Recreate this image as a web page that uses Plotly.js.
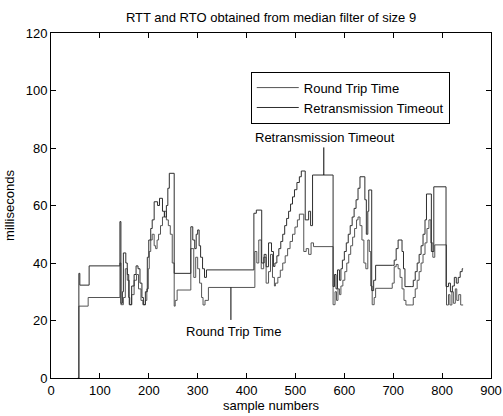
<!DOCTYPE html>
<html>
<head>
<meta charset="utf-8">
<script src="https://cdn.plot.ly/plotly-3.0.1.min.js"></script>
<style>html,body{margin:0;padding:0;background:#fff;}#chart{width:503px;height:416px;}</style>
</head>
<body>
<div id="chart"></div>
<script>
// Round Trip Time (step breakpoints: sample number -> milliseconds)
const rttSamples = [55,57,76,141,143,148,152,156,160,165,170,175,179,184,188,193,196,199,201,204,207,211,214,217,220,224,228,232,236,240,244,248,252,254,258,286,292,296,300,304,308,311,315,322,417,421,425,430,435,440,445,449,453,457,459,464,469,474,479,484,489,494,499,504,508,517,522,527,532,537,577,581,584,587,590,593,597,601,605,609,613,617,621,625,628,632,636,640,644,648,651,654,657,661,664,698,702,706,710,714,718,722,726,738,741,745,749,753,757,761,765,769,773,777,781,785,809,813,816,820,823,827,830,834,838,843];
const rttValues  = [0,25,28,40,25.5,28,38,34,25.5,29,34,36,31,27,25.5,27,31,38,44,48,50,46,45,48,50,53,56,58,55,53,50,40,25,27,30.6,45,35,42,38,33,28,25.4,27,31.5,44,40,48,38,42,33,37,43,35,32,33,35,37.5,40,42.5,45,47.5,50,52.5,55,57,44,45,43,47,45.7,25.5,30,27,31,29,32,34,37,40,43,46,49,52,55,56,53,48,40,38,48,44,32,25.5,28,31.2,33,38.7,39.5,38,35,31,27,25.4,25.4,28,31,34,37,40,43,47,52,55,47,42,46.3,25.4,29,25.4,30,26,31,27,29,25.4,25.4];

// Retransmission Timeout
const rtoSamples = [55,57,59,78,141,143,146,148,153,156,159,161,165,170,174,178,182,186,189,193,197,200,204,207,211,218,222,228,232,236,239,242,252,286,290,294,297,300,303,306,310,314,318,415,420,431,436,440,445,451,455,458,462,466,470,474,478,482,486,490,494,498,503,508,512,520,527,531,535,577,580,583,586,590,593,596,600,604,608,612,616,620,624,628,632,642,645,648,650,656,660,664,698,702,706,710,718,721,724,738,741,745,749,753,757,761,765,768,778,783,808,813,817,821,825,829,833,837,841,843];
const rtoValues  = [0,36.4,32.3,39,54.4,26,30,43.5,40,36,28,25.5,32,36,39,38,33,28,25.5,30,42,48,52,55,61.3,60,62.5,58,56,60,66,71.2,36.4,52.6,48,45,50,51.5,46,42,38,35,37.6,57.3,58.4,40,43,38.7,47,44,38.8,40,42.5,45,47.5,50,53,55.5,58,60.5,63,65.5,68,70,72,55,58,53,70.6,31.8,36,31,37.6,34,38,41,44,47,50,53,56,59,62,66,70,62,50,58,65.4,30.4,34,39.2,39.2,41,45,48,44,38,31.8,31.8,34,37,40,43,46,50,55,64,44,66.5,31.8,33,30,32,35,33,35,37,38,38];

const xTicks = [0,100,200,300,400,500,600,700,800,900];
const yTicks = [0,20,40,60,80,100,120];
const seriesNames = ['Round Trip Time','Retransmission Timeout'];
const titleText = 'RTT and RTO obtained from median filter of size 9';
const xLabel = 'sample numbers';
const yLabel = 'milliseconds';

// callout labels: [text, text x, text y, line x, line y0, line y1]
const rtoCallout = ['Retransmission Timeout', 560, 83.5, 558, 80.2, 70.6];
const rttCallout = ['Round Trip Time', 373, 16.3, 368, 20.2, 31.5];

const font = {family: 'Liberation Sans, Arial, sans-serif', size: 13, color: '#000'};

const traces = [
  {x: rttSamples, y: rttValues, name: seriesNames[0], mode: 'lines',
   line: {color: '#555555', width: 1, shape: 'hv'}},
  {x: rtoSamples, y: rtoValues, name: seriesNames[1], mode: 'lines',
   line: {color: '#2e2e2e', width: 1, shape: 'hv'}}
];

const axisCommon = {
  showgrid: false, zeroline: false, showline: true, linecolor: '#000', linewidth: 1,
  mirror: 'ticks', ticks: 'inside', ticklen: 5, tickcolor: '#000', tickfont: font
};

const layout = {
  width: 503, height: 416,
  margin: {l: 51, r: 12, t: 33, b: 38, pad: 0},
  paper_bgcolor: '#fff', plot_bgcolor: '#fff',
  font: font,
  title: {text: titleText, font: font, x: 0.5, xref: 'paper', xanchor: 'center',
          y: 1 - 17/416, yref: 'container', yanchor: 'middle'},
  xaxis: Object.assign({}, axisCommon, {range: [0, 900], tickvals: xTicks, ticktext: xTicks.map(String),
          title: {text: xLabel, font: font, standoff: 4}}),
  yaxis: Object.assign({}, axisCommon, {range: [0, 120], tickvals: yTicks, ticktext: yTicks.map(String),
          title: {text: yLabel, font: font, standoff: 8}}),
  showlegend: true,
  legend: {x: 0.454, y: 0.888, xanchor: 'left', yanchor: 'top', bgcolor: '#fff',
           bordercolor: '#000', borderwidth: 1, font: font, tracegroupgap: 0, itemwidth: 42},
  annotations: [
    {text: rtoCallout[0], x: rtoCallout[1], y: rtoCallout[2], xref: 'x', yref: 'y', showarrow: false, font: font},
    {text: rttCallout[0], x: rttCallout[1], y: rttCallout[2], xref: 'x', yref: 'y', showarrow: false, font: font}
  ],
  shapes: [
    {type: 'line', xref: 'x', yref: 'y', x0: rtoCallout[3], x1: rtoCallout[3], y0: rtoCallout[4], y1: rtoCallout[5], line: {color: '#000', width: 1}},
    {type: 'line', xref: 'x', yref: 'y', x0: rttCallout[3], x1: rttCallout[3], y0: rttCallout[4], y1: rttCallout[5], line: {color: '#000', width: 1}}
  ]
};

Plotly.newPlot('chart', traces, layout, {displayModeBar: false, staticPlot: true});
</script>
</body>
</html>
